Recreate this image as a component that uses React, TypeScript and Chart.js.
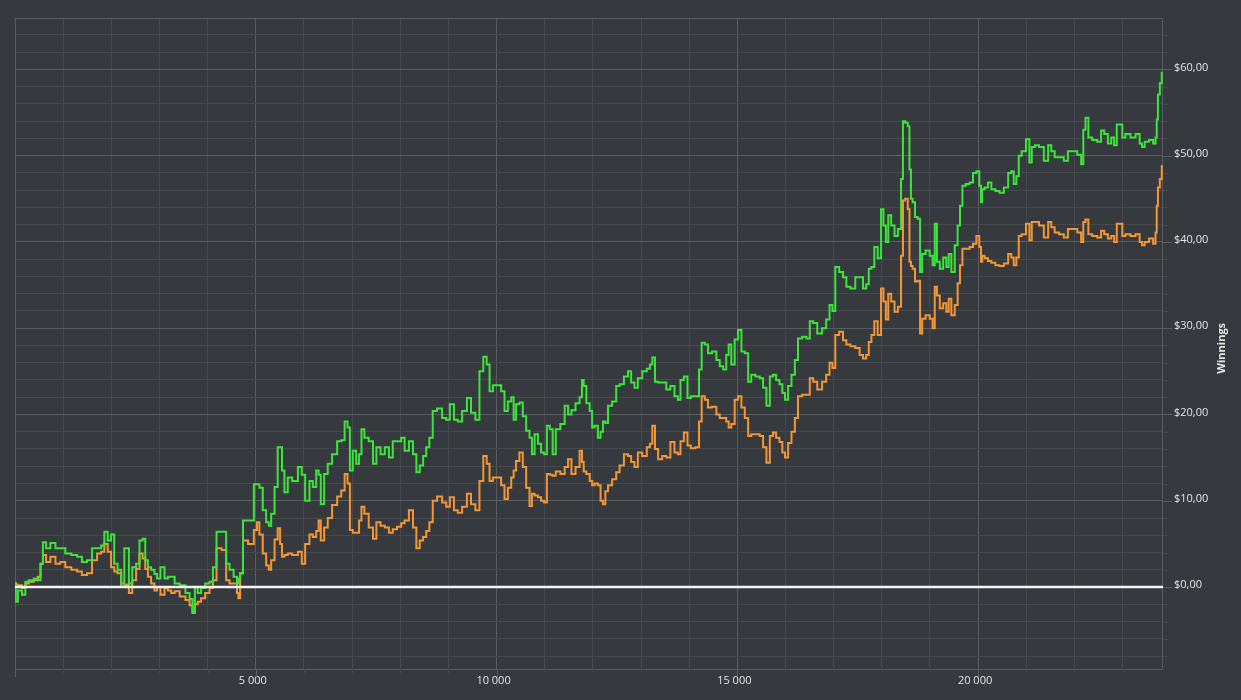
import React, { useEffect, useRef } from 'react';
import { Chart, registerables } from 'chart.js';

Chart.register(...registerables);

// Hands played (x) shared by both series
const HANDS = [
  0, 30, 90, 200, 230, 340, 440, 510, 550, 610, 680, 790, 890, 990, 1100, 1240, 1340, 1440, 1550, 1650,
  1760, 1820, 1890, 1960, 2030, 2090, 2170, 2240, 2300, 2340, 2390, 2480, 2550, 2620, 2680, 2730, 2790, 2860, 2930, 2970,
  3070, 3140, 3210, 3280, 3350, 3490, 3590, 3660, 3710, 3760, 3830, 3900, 4000, 4080, 4140, 4230, 4350, 4420, 4490, 4590,
  4630, 4650, 4700, 4770, 4910, 5010, 5040, 5110, 5180, 5250, 5290,
  5350, 5430, 5480, 5530, 5560, 5630, 5700, 5810, 5940, 5970, 6080, 6150, 6220, 6290, 6320, 6380, 6460, 6530, 6640, 6740,
  6810, 6880, 6930, 6980, 7050, 7120, 7170, 7220, 7290, 7400, 7470, 7540, 7640, 7720, 7810, 7880, 7990, 8050, 8130, 8230,
  8300, 8370, 8440, 8510, 8570, 8640, 8710, 8820, 8920, 8990, 9070, 9160, 9230, 9340, 9430, 9510, 9610, 9680, 9770, 9820,
  9890, 9960, 10060, 10130, 10200, 10270, 10340, 10370, 10440, 10510,
  10580, 10650, 10720, 10750, 10830, 10890, 10960, 11020, 11070, 11140, 11190, 11270, 11380, 11450, 11520, 11590, 11690, 11760, 11790, 11830,
  11900, 11970, 12000, 12070, 12140, 12180, 12240, 12280, 12350, 12450, 12520, 12590, 12700, 12760, 12830, 12900, 12970, 13080, 13160, 13210,
  13260, 13320, 13390, 13490, 13560, 13660, 13730, 13800, 13840, 13940, 13990, 14080, 14180, 14230, 14290, 14360, 14420, 14530, 14600, 14670,
  14740, 14800, 14840, 14910, 14980, 15050, 15120, 15190, 15260, 15320, 15430, 15500, 15570, 15640, 15710, 15770, 15840, 15910, 15960, 16020,
  16090, 16160, 16230, 16290,
  16400, 16470, 16540, 16610, 16710, 16810, 16880, 16950, 17000, 17070, 17160, 17230, 17300, 17400, 17500, 17580, 17640, 17710, 17750, 17820,
  17870, 17960, 18010, 18060, 18110, 18160, 18230, 18300, 18370, 18430, 18450, 18520, 18560, 18590, 18620, 18660, 18720, 18770, 18820, 18860,
  18960, 19030, 19080, 19120, 19170, 19240, 19310, 19370, 19410, 19480, 19550, 19600, 19650, 19700, 19790, 19860, 19930, 20000,
  20050, 20070, 20100, 20170, 20240, 20310, 20410, 20480, 20590, 20660, 20720, 20760, 20830, 20860, 20950, 21040, 21090, 21140, 21220, 21310,
  21420, 21490, 21550, 21630, 21730, 21830, 21900, 22010, 22110, 22170, 22200, 22260, 22320, 22420, 22530, 22580, 22660, 22730, 22800, 22850,
  22910, 22980, 23010, 23110, 23220, 23320, 23390, 23420, 23500, 23600, 23670, 23700, 23720, 23750, 23800, 23830,
];

// Green series (winnings, $)
const WIN_GREEN = [
  0.4, -1.7, -0.4, -0.9, 0.6, 0.8, 1.0, 0.8, 2.7, 5.2, 4.5, 5.1, 4.5, 4.5, 3.9, 3.7, 3.5, 2.9, 3.1, 4.5,
  4.5, 4.8, 6.4, 5.4, 6.1, 2.7, 2.0, 0.4, 4.5, 4.5, 0.4, 2.3, 2.7, 5.4, 5.6, 3.1, 2.3, 2.0, 1.5, 1.0,
  2.3, 1.0, 1.2, 1.2, 0.4, 0.2, -0.7, -1.4, -3.0, 0, -0.7, -0.1, 0.4, 0.6, 2.3, 6.4, 6.4, 2.7, 2.0, 1.2,
  0.4, 1.0, 1.6, 7.7, 7.7, 11.9, 11.9, 11.5, 8.9, 7.5, 7.1,
  8.5, 11.6, 16.2, 16.2, 13.5, 11.0, 12.7, 12.3, 13.9, 13.0, 10.0, 12.3, 11.6, 13.5, 13.0, 9.6, 13.1, 14.3, 15.4, 16.9,
  17.0, 19.2, 18.5, 13.5, 15.8, 14.3, 15.4, 18.3, 17.3, 16.9, 14.3, 16.2, 15.4, 16.2, 15.0, 16.9, 16.9, 17.3, 15.8, 16.9,
  15.4, 13.3, 14.1, 15.2, 16.2, 17.3, 20.4, 20.7, 19.6, 19.4, 21.2, 19.4, 19.2, 20.4, 21.9, 20.2, 19.4, 25.0, 26.7, 25.8,
  22.7, 23.4, 23.4, 22.7, 20.4, 21.5, 22.0, 19.4, 21.2, 21.4,
  19.8, 18.1, 17.3, 15.4, 17.7, 16.6, 15.6, 15.4, 18.7, 18.3, 15.4, 18.3, 18.9, 21.0, 20.0, 20.5, 21.3, 22.0, 24.0, 23.3,
  21.3, 20.4, 18.5, 18.7, 17.3, 18.0, 19.2, 19.0, 21.0, 21.5, 23.3, 23.5, 24.4, 25.0, 23.7, 23.1, 24.2, 25.0, 25.3, 25.8,
  26.6, 23.8, 23.7, 23.7, 22.9, 23.3, 22.1, 21.7, 24.0, 24.4, 21.9, 22.1, 22.1, 25.2, 28.3, 28.1, 27.1, 27.3, 26.3, 25.6,
  25.2, 26.9, 28.1, 25.8, 28.7, 29.8, 27.3, 27.1, 23.8, 24.6, 24.4, 24.2, 23.1, 21.0, 24.4, 24.6, 24.0, 23.5, 22.5, 21.7,
  23.3, 24.6, 26.3, 28.8,
  29.0, 28.8, 30.8, 30.6, 29.4, 30.0, 31.0, 32.7, 32.0, 37.1, 36.5, 35.9, 34.8, 34.6, 35.9, 35.9, 34.6, 35.1, 36.9, 37.1,
  39.4, 38.1, 43.8, 41.9, 40.0, 43.1, 41.9, 40.7, 41.5, 47.3, 54.0, 53.8, 53.4, 48.4, 45.0, 44.6, 42.9, 42.7, 36.5, 38.6,
  39.0, 38.4, 37.3, 42.1, 37.7, 36.9, 38.2, 37.1, 38.6, 36.5, 39.6, 41.9, 44.2, 46.5, 46.7, 46.9, 48.0, 48.2,
  46.5, 44.6, 46.1, 46.3, 46.9, 46.1, 45.9, 45.7, 46.3, 48.0, 48.2, 46.7, 47.6, 50.0, 50.5, 51.9, 49.2, 51.0, 51.2, 51.0,
  49.4, 51.2, 50.5, 49.8, 49.8, 49.4, 50.5, 50.5, 50.1, 49.0, 53.0, 54.4, 52.1, 51.8, 51.6, 52.9, 52.5, 51.4, 52.1, 51.2,
  53.6, 53.6, 52.1, 52.5, 52.1, 52.5, 51.4, 51.0, 51.6, 51.8, 51.4, 52.1, 54.2, 57.1, 58.4, 59.6,
];

// Orange series (winnings, $)
const WIN_ORANGE = [
  0.5, 0.3, 0.2, -0.1, 0.4, 0.6, 0.8, 1.2, 2.7, 3.7, 2.9, 3.5, 2.7, 2.9, 2.3, 2.0, 1.8, 1.4, 1.6, 3.1,
  3.9, 4.1, 5.0, 4.1, 2.3, 1.8, 1.6, 0, 0.2, 0.3, -0.7, 0.8, 2.1, 3.9, 3.3, 2.1, 1.2, 0.4, -0.4, 0,
  -0.9, -0.1, -0.4, -0.7, -0.5, -1.1, -1.5, -2.1, -2.9, -2.0, -1.7, -1.3, -0.7, -0.1, 0.8, 4.5, 4.3, 0.8, 0.4, 0.4,
  -0.7, -1.3, 1.6, 5.4, 5.0, 6.6, 7.5, 6.1, 3.9, 2.5, 2.0,
  3.1, 5.5, 6.8, 5.0, 3.5, 3.7, 3.9, 3.7, 4.1, 2.7, 5.0, 6.1, 5.8, 6.5, 7.7, 5.4, 6.9, 8.0, 9.5, 10.5,
  11.2, 13.1, 12.0, 6.6, 6.3, 6.3, 7.7, 9.3, 8.5, 6.9, 5.6, 7.5, 7.1, 6.9, 6.3, 6.7, 7.0, 7.4, 7.7, 8.9,
  6.9, 4.5, 5.4, 5.8, 6.5, 7.5, 10.0, 10.5, 9.8, 9.3, 10.4, 8.9, 8.6, 9.3, 10.8, 9.6, 8.9, 12.3, 15.2, 14.3,
  12.3, 12.7, 12.7, 11.8, 10.2, 11.5, 12.7, 13.5, 14.6, 15.6,
  13.9, 11.5, 9.4, 10.8, 10.6, 10.4, 10.0, 9.8, 13.1, 13.0, 12.9, 13.4, 13.1, 13.9, 14.8, 13.1, 13.9, 15.8, 14.5, 13.4,
  13.1, 12.3, 11.8, 12.0, 11.8, 10.0, 9.6, 11.1, 11.8, 12.5, 13.3, 14.1, 15.4, 15.2, 14.5, 13.9, 15.6, 15.2, 16.2, 16.6,
  18.7, 16.0, 14.8, 15.2, 15.0, 16.8, 15.6, 15.4, 16.9, 17.9, 16.4, 16.1, 16.2, 19.2, 22.1, 21.7, 20.8, 20.9, 20.0, 19.6,
  19.6, 19.2, 18.5, 18.9, 21.7, 22.1, 20.8, 19.6, 17.5, 17.7, 17.7, 17.5, 16.2, 14.4, 17.5, 17.9, 17.3, 16.8, 15.6, 15.0,
  16.7, 18.0, 19.6, 22.1,
  22.3, 22.3, 24.2, 23.8, 22.9, 23.8, 24.6, 26.0, 25.4, 29.2, 29.6, 28.6, 28.1, 27.9, 27.7, 26.9, 26.5, 26.9, 28.4, 29.2,
  30.8, 29.2, 34.6, 33.1, 31.0, 34.0, 33.1, 31.9, 32.5, 38.4, 44.8, 45.0, 43.8, 37.7, 37.2, 36.9, 35.4, 35.5, 29.4, 31.1,
  31.5, 31.1, 30.0, 34.8, 33.8, 32.3, 32.9, 31.9, 33.4, 31.5, 32.7, 35.2, 37.3, 39.2, 39.2, 39.4, 39.8, 40.7,
  39.4, 37.7, 38.4, 38.1, 37.8, 37.6, 37.3, 37.2, 37.5, 38.6, 38.2, 37.3, 38.2, 40.7, 40.9, 42.1, 40.2, 42.3, 42.3, 41.9,
  40.5, 42.3, 41.7, 41.1, 40.9, 40.5, 41.5, 41.5, 41.1, 40.0, 42.3, 42.6, 40.9, 40.7, 40.5, 41.3, 40.9, 40.4, 40.7, 40.0,
  42.1, 42.1, 40.7, 40.9, 40.7, 40.9, 40.0, 39.6, 40.0, 40.4, 39.8, 41.1, 44.2, 46.3, 47.3, 48.8,
];

const X_TICKS = [
  0, 1000, 2000, 3000, 4000, 5000, 6000, 7000, 8000, 9000, 10000, 11000, 12000,
  13000, 14000, 15000, 16000, 17000, 18000, 19000, 20000, 21000, 22000, 23000,
];
const Y_TICKS = [
  -8, -6, -4, -2, 0, 2, 4, 6, 8, 10, 12, 14, 16, 18, 20, 22, 24, 26, 28, 30,
  32, 34, 36, 38, 40, 42, 44, 46, 48, 50, 52, 54, 56, 58, 60, 62, 64,
];
const X_MIN = 0;
const X_MAX = 23840;
const Y_MIN = -9.5;
const Y_MAX = 66;
const AXIS_TITLE = 'Winnings';

const BG = '#36393d';
const GRID_MINOR = '#45484c';
const GRID_MAJOR = '#5a5d61';
const TEXT = '#e4e4e4';
const GREEN = '#3ce43c';
const ORANGE = '#f39736';
const FONT = '"Open Sans", "DejaVu Sans", sans-serif';

const isMajorX = (v: number) => v % 5000 === 0;
const isMajorY = (v: number) => v % 10 === 0;

const fmtX = (v: number) => {
  if (v <= 0 || !isMajorX(v)) return '';
  const th = Math.floor(v / 1000);
  const rest = String(v % 1000).padStart(3, '0');
  return `${th} ${rest}`;
};
const fmtY = (v: number) => (v >= 0 && isMajorY(v) ? `$${v},00` : '');

const framePlugin = {
  id: 'framePlugin',
  beforeDraw(chart: any) {
    const { ctx, width, height } = chart;
    ctx.save();
    ctx.fillStyle = BG;
    ctx.fillRect(0, 0, width, height);
    ctx.restore();
  },
  beforeDatasetsDraw(chart: any) {
    const { ctx, chartArea } = chart;
    const { left, right, top, bottom } = chartArea;
    ctx.save();
    ctx.strokeStyle = GRID_MAJOR;
    ctx.lineWidth = 1;
    ctx.strokeRect(Math.round(left) + 0.5, Math.round(top) + 0.5, Math.round(right - left) - 1, Math.round(bottom - top));
    // tick marks
    const xs = chart.scales.x;
    const ys = chart.scales.y;
    X_TICKS.forEach((v) => {
      const px = Math.round(xs.getPixelForValue(v)) + 0.5;
      ctx.strokeStyle = isMajorX(v) ? GRID_MAJOR : GRID_MINOR;
      ctx.beginPath();
      ctx.moveTo(px, bottom);
      ctx.lineTo(px, bottom + (isMajorX(v) ? 8 : 4));
      ctx.stroke();
    });
    Y_TICKS.forEach((v) => {
      const py = Math.round(ys.getPixelForValue(v)) + 0.5;
      ctx.strokeStyle = isMajorY(v) ? GRID_MAJOR : GRID_MINOR;
      ctx.beginPath();
      ctx.moveTo(right, py);
      ctx.lineTo(right + (isMajorY(v) ? 9 : 5), py);
      ctx.stroke();
    });
    ctx.restore();
  },
  afterDatasetsDraw(chart: any) {
    const { ctx, chartArea } = chart;
    const ys = chart.scales.y;
    const y0 = ys.getPixelForValue(0);
    ctx.save();
    ctx.strokeStyle = '#f4f4f4';
    ctx.lineWidth = 2.5;
    ctx.beginPath();
    ctx.moveTo(chartArea.left, y0);
    ctx.lineTo(chartArea.right, y0);
    ctx.stroke();
    // axis title, reading bottom to top
    ctx.translate(chart.width - 19, (chartArea.top + chartArea.bottom) / 2 + 5);
    ctx.rotate(-Math.PI / 2);
    ctx.fillStyle = TEXT;
    ctx.font = `bold 11px ${FONT}`;
    ctx.textAlign = 'center';
    ctx.textBaseline = 'middle';
    ctx.fillText(AXIS_TITLE, 0, 0);
    ctx.restore();
  },
};

export default function App() {
  const canvasRef = useRef<HTMLCanvasElement | null>(null);

  useEffect(() => {
    const canvas = canvasRef.current;
    if (!canvas) return;
    const greenData = HANDS.map((x, i) => ({ x, y: WIN_GREEN[i] }));
    const orangeData = HANDS.map((x, i) => ({ x, y: WIN_ORANGE[i] }));
    const chart = new Chart(canvas, {
      type: 'line',
      data: {
        datasets: [
          {
            label: 'Winnings',
            data: greenData,
            borderColor: GREEN,
            borderWidth: 2,
            pointRadius: 0,
            stepped: 'middle',
            fill: false,
          },
          {
            label: 'Winnings (adjusted)',
            data: orangeData,
            borderColor: ORANGE,
            borderWidth: 2,
            pointRadius: 0,
            stepped: 'middle',
            fill: false,
          },
        ],
      },
      options: {
        animation: false,
        responsive: true,
        maintainAspectRatio: false,
        events: [],
        layout: { padding: { left: 15, top: 15, right: 0, bottom: 0 } },
        plugins: {
          legend: { display: false },
          tooltip: { enabled: false },
          title: { display: false },
        },
        scales: {
          x: {
            type: 'linear',
            position: 'bottom',
            min: X_MIN,
            max: X_MAX,
            afterBuildTicks: (s: any) => {
              s.ticks = X_TICKS.map((v) => ({ value: v }));
            },
            afterFit: (s: any) => {
              s.height = 31;
            },
            grid: {
              color: (c: any) => (c.tick && isMajorX(c.tick.value) ? GRID_MAJOR : GRID_MINOR),
              lineWidth: 1,
              drawTicks: false,
            },
            border: { display: false },
            ticks: {
              autoSkip: false,
              maxRotation: 0,
              minRotation: 0,
              padding: 5,
              labelOffset: -3,
              color: TEXT,
              font: { family: FONT, size: 11 },
              callback: (v: any) => fmtX(Number(v)),
            },
          },
          y: {
            type: 'linear',
            position: 'right',
            min: Y_MIN,
            max: Y_MAX,
            afterBuildTicks: (s: any) => {
              s.ticks = Y_TICKS.map((v) => ({ value: v }));
            },
            afterFit: (s: any) => {
              s.width = 78;
            },
            grid: {
              color: (c: any) => {
                const v = c.tick ? c.tick.value : 1;
                if (v === 0) return 'rgba(0,0,0,0)';
                return isMajorY(v) ? GRID_MAJOR : GRID_MINOR;
              },
              lineWidth: 1,
              drawTicks: false,
            },
            border: { display: false },
            ticks: {
              autoSkip: false,
              padding: 11,
              labelOffset: -2,
              color: TEXT,
              font: { family: FONT, size: 11 },
              callback: (v: any) => fmtY(Number(v)),
            },
          },
        },
      },
      plugins: [framePlugin],
    });
    return () => {
      chart.destroy();
    };
  }, []);

  return (
    <div
      style={{
        position: 'fixed',
        left: 0,
        top: 0,
        width: 1241,
        height: 700,
        background: BG,
      }}
    >
      <canvas ref={canvasRef} />
    </div>
  );
}
